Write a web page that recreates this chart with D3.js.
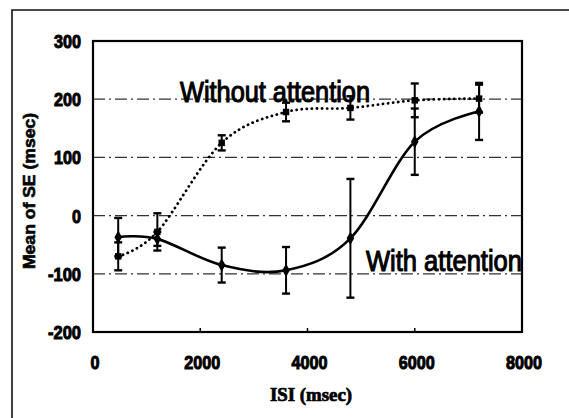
<!DOCTYPE html>
<html>
<head>
<meta charset="utf-8">
<script src="https://cdn.jsdelivr.net/npm/d3@7"></script>
<style>
  body { margin: 0; background: #fff; }
  svg { display: block; }
  .tick-label { font-family: "Liberation Sans", Arial, sans-serif; font-weight: bold; font-size: 19px; stroke: #000; stroke-width: 1px; }
</style>
</head>
<body>
<div id="chart"></div>
<script>
/**
 * DATA
 * */
const isi = [470, 1200, 2400, 3600, 4800, 6000, 7200];
const withoutMean = [-70, -28, 125, 178, 185, 198, 201];
const withoutErr = [24, 32, 13, 16, 20, 29, 24];
const withMean = [-37, -40, -85, -94, -39, 127, 179];
const withErr = [33, 12, 30, 40, 102, 57, 49];
const xTicks = [0, 2000, 4000, 6000, 8000];
const yTicks = [300, 200, 100, 0, -100, -200];
const gridValues = [200, 100, 0, -100];

/**
 * CONSTANTS
 * */
const width = 569,
  height = 418,
  plot = { left: 93, top: 41, right: 522, bottom: 332 };

const svg = d3.select("#chart")
  .append("svg")
  .attr("width", width)
  .attr("height", height);

const x = d3.scaleLinear().domain([0, 8000]).range([plot.left, plot.right]);
const y = d3.scaleLinear().domain([-200, 300]).range([plot.bottom, plot.top]);

// squeezed width for the condensed tick digits
const labelLength = d => {
  const s = String(d);
  return s.replace("-", "").length * 9 + (s[0] === "-" ? 6 : 0);
};

// outer frame (left + top edges of the scanned figure box)
svg.append("path")
  .attr("d", `M12,${height} L12,10 L${width},10`)
  .attr("fill", "none")
  .attr("stroke", "#111")
  .attr("stroke-width", 1.6);

// dash-dot gridlines
svg.append("g")
  .selectAll("line")
  .data(gridValues)
  .join("line")
  .attr("x1", plot.left)
  .attr("x2", plot.right)
  .attr("y1", d => y(d))
  .attr("y2", d => y(d))
  .attr("stroke", "#333")
  .attr("stroke-width", 1.3)
  .attr("stroke-dasharray", "12,4,2,4");

// plot frame
svg.append("rect")
  .attr("x", plot.left)
  .attr("y", plot.top)
  .attr("width", plot.right - plot.left)
  .attr("height", plot.bottom - plot.top)
  .attr("fill", "none")
  .attr("stroke", "#000")
  .attr("stroke-width", 2.2);

// small inner ticks on x axis
svg.append("g")
  .selectAll("line")
  .data(xTicks.slice(1, -1))
  .join("line")
  .attr("x1", d => x(d))
  .attr("x2", d => x(d))
  .attr("y1", plot.bottom)
  .attr("y2", plot.bottom - 4)
  .attr("stroke", "#000")
  .attr("stroke-width", 1.5);

// tick labels
svg.append("g")
  .selectAll("text")
  .data(xTicks)
  .join("text")
  .attr("class", "tick-label")
  .attr("x", d => x(d) + 2)
  .attr("y", 369)
  .attr("text-anchor", "middle")
  .attr("textLength", labelLength)
  .attr("lengthAdjust", "spacingAndGlyphs")
  .text(d => d);

svg.append("g")
  .selectAll("text")
  .data(yTicks)
  .join("text")
  .attr("class", "tick-label")
  .attr("x", 81)
  .attr("y", d => y(d) + 7)
  .attr("text-anchor", "end")
  .attr("textLength", labelLength)
  .attr("lengthAdjust", "spacingAndGlyphs")
  .text(d => d);

// axis titles
svg.append("text")
  .attr("x", 311)
  .attr("y", 401)
  .attr("text-anchor", "middle")
  .attr("font-family", "Liberation Serif, serif")
  .attr("font-weight", "bold")
  .attr("font-size", 18)
  .attr("stroke", "#000")
  .attr("stroke-width", 0.7)
  .attr("textLength", 82)
  .attr("lengthAdjust", "spacingAndGlyphs")
  .text("ISI (msec)");

svg.append("text")
  .attr("transform", "translate(35,191) rotate(-90)")
  .attr("text-anchor", "middle")
  .attr("font-family", "Liberation Sans, Arial, sans-serif")
  .attr("font-weight", "bold")
  .attr("font-size", 16)
  .attr("stroke", "#000")
  .attr("stroke-width", 0.6)
  .attr("textLength", 156)
  .attr("lengthAdjust", "spacingAndGlyphs")
  .text("Mean of SE (msec)");

// series
const series = [
  { name: "without", mean: withoutMean, err: withoutErr, dash: "0.1,5", marker: "square" },
  { name: "with", mean: withMean, err: withErr, dash: null, marker: "diamond" }
];

const line = d3.line()
  .x(d => x(d.x))
  .y(d => y(d.y))
  .curve(d3.curveCardinal.tension(0));

series.forEach(s => {
  const pts = isi.map((v, i) => ({ x: v, y: s.mean[i], e: s.err[i] }));
  const g = svg.append("g");

  g.append("path")
    .datum(pts)
    .attr("d", line)
    .attr("fill", "none")
    .attr("stroke", "#000")
    .attr("stroke-width", s.dash ? 2.8 : 2.6)
    .attr("stroke-linecap", "round")
    .attr("stroke-dasharray", s.dash);

  // error bars
  const eb = g.selectAll(".eb").data(pts).join("g").attr("class", "eb");
  eb.append("line")
    .attr("x1", d => x(d.x)).attr("x2", d => x(d.x))
    .attr("y1", d => y(d.y - d.e)).attr("y2", d => y(d.y + d.e))
    .attr("stroke", "#000").attr("stroke-width", 2);
  eb.selectAll(".cap")
    .data(d => [d.y - d.e, d.y + d.e].map(v => ({ x: d.x, v })))
    .join("line")
    .attr("class", "cap")
    .attr("x1", d => x(d.x) - 4).attr("x2", d => x(d.x) + 4)
    .attr("y1", d => y(d.v)).attr("y2", d => y(d.v))
    .attr("stroke", "#000").attr("stroke-width", 2.4);

  // markers
  g.selectAll(".mk")
    .data(pts)
    .join("path")
    .attr("class", "mk")
    .attr("transform", d => `translate(${x(d.x)},${y(d.y)})`)
    .attr("d", d3.symbol().type(s.marker === "square" ? d3.symbolSquare : d3.symbolDiamond).size(s.marker === "square" ? 42 : 50))
    .attr("fill", "#000");
});

// in-plot labels
const labelFont = "Liberation Sans, Arial, sans-serif";

svg.append("text")
  .attr("x", 180)
  .attr("y", 102)
  .attr("font-family", labelFont)
  .attr("font-size", 29)
  .attr("stroke", "#000")
  .attr("stroke-width", 1.1)
  .attr("textLength", 190)
  .attr("lengthAdjust", "spacingAndGlyphs")
  .text("Without attention");

svg.append("text")
  .attr("x", 366)
  .attr("y", 271)
  .attr("font-family", labelFont)
  .attr("font-size", 29)
  .attr("stroke", "#000")
  .attr("stroke-width", 1.1)
  .attr("textLength", 156)
  .attr("lengthAdjust", "spacingAndGlyphs")
  .text("With attention");
</script>
</body>
</html>
